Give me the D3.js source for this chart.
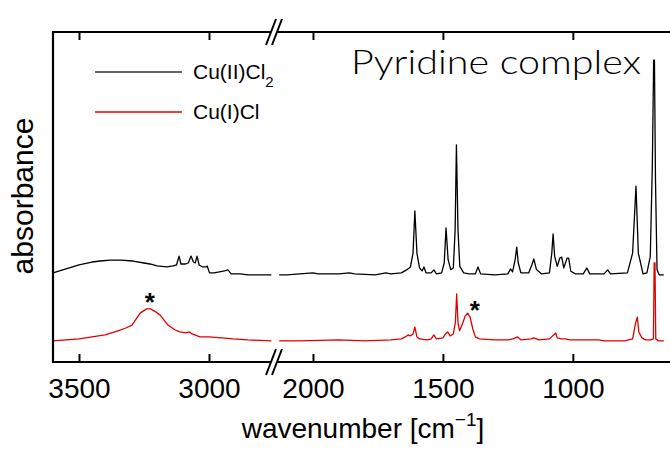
<!DOCTYPE html>
<html>
<head>
<meta charset="utf-8">
<script src="https://cdn.jsdelivr.net/npm/d3@7"></script>
<style>
  body { margin: 0; background: #fff; }
  text { font-family: "Liberation Sans", Arial, sans-serif; }
</style>
</head>
<body>
<div id="chart"></div>
<script>
// IR spectra, pyridine complex, split wavenumber axis

// tick labels on each side of the axis break
const leftTicks = [3500, 3000];
const rightTicks = [2000, 1500, 1000];

// [wavenumber, absorbance (arb.)]
const blackLeft = [
    [3600, 27.0], [3550, 28.2], [3500, 29.4], [3450, 30.3], [3419, 30.6], [3380, 30.9],
    [3340, 30.9], [3292, 30.6], [3250, 30.0], [3227, 29.7], [3200, 29.1], [3162, 28.8],
    [3138, 29.1], [3125, 29.4], [3115, 32.1], [3108, 29.7], [3090, 29.7], [3080, 30.0],
    [3069, 32.1], [3060, 30.3], [3053, 30.0], [3046, 32.1], [3038, 29.4], [3025, 28.8],
    [3012, 28.8], [3007, 29.1], [2998, 27.0], [2980, 27.0], [2960, 27.3], [2940, 27.6],
    [2927, 27.9], [2915, 26.7], [2880, 26.7], [2850, 26.4], [2800, 26.4], [2760, 26.4]
];
const blackRight = [
    [2130, 26.4], [2100, 26.4], [2050, 26.7], [2000, 27.0], [1980, 26.7], [1900, 26.7],
    [1860, 27.0], [1840, 26.7], [1760, 26.4], [1720, 27.0], [1700, 26.7], [1660, 27.0],
    [1640, 27.9], [1625, 28.8], [1615, 33.0], [1608, 45.8], [1600, 33.0], [1590, 28.5],
    [1580, 27.6], [1573, 28.8], [1565, 27.0], [1545, 27.0], [1535, 27.9], [1525, 26.7],
    [1505, 27.0], [1495, 30.0], [1488, 40.6], [1480, 31.0], [1470, 28.0], [1460, 28.5],
    [1453, 40.0], [1448, 65.8], [1442, 40.0], [1435, 29.0], [1420, 27.0], [1400, 26.7],
    [1375, 26.7], [1365, 28.8], [1355, 26.7], [1300, 26.4], [1250, 26.7], [1240, 28.2],
    [1232, 27.3], [1222, 31.0], [1216, 34.8], [1210, 30.0], [1200, 27.0], [1170, 27.0],
    [1158, 29.4], [1150, 31.2], [1140, 28.0], [1120, 26.7], [1090, 27.0], [1081, 33.0],
    [1076, 38.8], [1070, 32.0], [1060, 29.0], [1050, 31.5], [1043, 31.8], [1035, 28.5],
    [1022, 31.5], [1016, 31.5], [1008, 27.5], [990, 26.7], [960, 26.7], [946, 28.5],
    [935, 26.7], [880, 26.7], [866, 27.9], [855, 26.7], [790, 27.0], [770, 33.0],
    [757, 53.3], [748, 33.0], [730, 26.7], [715, 27.0], [702, 32.0], [694, 60.0],
    [689, 91.5], [686, 91.5], [682, 55.0], [676, 28.0], [668, 26.4], [650, 26.4]
];
const redLeft = [
    [3600, 6.4], [3550, 6.7], [3500, 7.0], [3450, 7.6], [3400, 8.2], [3350, 9.4],
    [3320, 10.3], [3296, 11.2], [3265, 14.8], [3240, 16.1], [3225, 16.1], [3205, 15.2],
    [3188, 14.2], [3158, 11.2], [3130, 9.7], [3112, 9.1], [3090, 8.8], [3075, 9.1],
    [3065, 8.5], [3035, 7.6], [3000, 7.6], [2950, 7.3], [2908, 7.0], [2850, 6.7],
    [2760, 6.4]
];
const redRight = [
    [2130, 6.4], [2050, 6.4], [1900, 6.7], [1800, 6.4], [1700, 6.7], [1660, 7.0],
    [1645, 7.6], [1634, 8.2], [1625, 7.9], [1615, 8.5], [1608, 10.6], [1600, 7.6],
    [1590, 7.0], [1560, 6.7], [1545, 7.0], [1535, 8.2], [1525, 7.0], [1500, 7.3],
    [1490, 8.5], [1482, 9.1], [1472, 7.9], [1460, 8.5], [1452, 12.0], [1447, 20.6],
    [1442, 12.0], [1436, 9.5], [1425, 11.5], [1415, 13.8], [1405, 14.8], [1395, 13.5],
    [1385, 10.0], [1375, 7.6], [1360, 7.0], [1300, 6.7], [1250, 6.7], [1230, 7.0],
    [1212, 7.6], [1200, 6.7], [1160, 7.0], [1150, 7.3], [1130, 6.7], [1090, 7.0],
    [1066, 8.8], [1060, 7.3], [1045, 7.0], [1030, 7.0], [1010, 6.7], [960, 6.7],
    [900, 6.7], [880, 6.4], [800, 6.4], [770, 7.0], [758, 12.0], [752, 13.6],
    [746, 9.0], [740, 8.2], [734, 7.3], [720, 6.7], [700, 6.7], [690, 7.0],
    [687, 30.0], [684, 30.0], [681, 7.0], [670, 6.4], [650, 6.4]
];

// asterisks over the broad bands: [side, wavenumber, absorbance]
const stars = [["left", 3228, 19.7], ["right", 1377, 17.3]];

const series = [
    {name: "Cu(II)Cl", sub: "2", color: "#000", left: blackLeft, right: blackRight},
    {name: "Cu(I)Cl", sub: "", color: "#e00000", left: redLeft, right: redRight}
];

const W = 670, H = 450;
const frame = {left: 53, right: 669, top: 32, bottom: 362, brk: 274};

const svg = d3.select("#chart").append("svg")
    .attr("width", W)
    .attr("height", H);

const xLeft = d3.scaleLinear().domain([3600, 2750]).range([frame.left, frame.brk]);
const xRight = d3.scaleLinear().domain([2150, 630]).range([frame.brk, frame.right]);
const y = d3.scaleLinear().domain([0, 100]).range([frame.bottom, frame.top]);
const xSide = {left: xLeft, right: xRight};

// spectra
series.forEach(s => {
    [[s.left, xLeft], [s.right, xRight]].forEach(([pts, xs]) => {
        svg.append("path")
            .datum(pts)
            .attr("fill", "none")
            .attr("stroke", s.color)
            .attr("stroke-width", 1.3)
            .attr("stroke-linejoin", "round")
            .attr("d", d3.line().x(d => xs(d[0])).y(d => y(d[1])));
    });
});

// axes: ticks inside, labels below
function addAxis(scale, ticks, bottom) {
    let ax = bottom ? d3.axisBottom(scale) : d3.axisTop(scale);
    ax.tickValues(ticks).tickSizeInner(-8).tickSizeOuter(0).tickPadding(16)
        .tickFormat(bottom ? d3.format("d") : "");
    let g = svg.append("g")
        .attr("transform", `translate(0, ${bottom ? frame.bottom : frame.top})`)
        .call(ax);
    g.select(".domain").remove();
    g.selectAll(".tick line").attr("stroke", "#000").attr("stroke-width", 2);
    g.selectAll(".tick text")
        .attr("fill", "#000")
        .style("font-size", "28px")
        .style("font-family", "'Liberation Sans', Arial, sans-serif");
}
addAxis(xLeft, leftTicks, true);
addAxis(xRight, rightTicks, true);
addAxis(xLeft, leftTicks, false);
addAxis(xRight, rightTicks, false);

// frame lines
svg.append("path")
    .attr("d", `M${frame.right + 2},${frame.top}H${frame.left}V${frame.bottom}H${frame.right + 2}`)
    .attr("fill", "none")
    .attr("stroke", "#000")
    .attr("stroke-width", 2.2);

// axis break marks
[frame.top, frame.bottom].forEach(yy => {
    let c = frame.brk;
    svg.append("polygon")
        .attr("points", `${c - 7},${yy + 13} ${c - 1},${yy + 13} ${c + 7},${yy - 13} ${c + 1},${yy - 13}`)
        .attr("fill", "#fff");
    [-3, 3].forEach(off => {
        svg.append("line")
            .attr("x1", c + off - 5).attr("y1", yy + 13)
            .attr("x2", c + off + 5).attr("y2", yy - 13)
            .attr("stroke", "#000")
            .attr("stroke-width", 2);
    });
});

// axis titles
let xt = svg.append("text")
    .attr("x", 363)
    .attr("y", 438)
    .attr("text-anchor", "middle")
    .style("font-size", "28px");
xt.append("tspan").text("wavenumber [cm");
xt.append("tspan").attr("dy", -12).style("font-size", "19px").text("\u22121");
xt.append("tspan").attr("dy", 12).text("]");

svg.append("text")
    .attr("transform", "translate(33, 196) rotate(-90)")
    .attr("text-anchor", "middle")
    .style("font-size", "30px")
    .text("absorbance");

// title inside plot
svg.append("text")
    .attr("x", 351)
    .attr("y", 74)
    .attr("textLength", 290)
    .attr("lengthAdjust", "spacingAndGlyphs")
    .style("font-family", "Lato, 'DejaVu Sans', sans-serif")
    .style("font-weight", 300)
    .style("font-size", "34px")
    .text("Pyridine complex");

// legend
series.forEach((s, i) => {
    let ly = 72 + i * 40;
    svg.append("line")
        .attr("x1", 95).attr("x2", 182)
        .attr("y1", ly).attr("y2", ly)
        .attr("stroke", i === 0 ? "#333" : s.color)
        .attr("stroke-width", 1.5);
    let t = svg.append("text")
        .attr("x", 193)
        .attr("y", ly + 7)
        .style("font-size", "21px")
        .text(s.name);
    if (s.sub) {
        t.append("tspan").attr("dy", 8).style("font-size", "15px").text(s.sub);
    }
});

// asterisks
stars.forEach(([side, wn, v]) => {
    svg.append("text")
        .attr("x", xSide[side](wn))
        .attr("y", y(v) + 14)
        .attr("text-anchor", "middle")
        .style("font-size", "26px")
        .style("font-weight", "bold")
        .text("*");
});
</script>
</body>
</html>
